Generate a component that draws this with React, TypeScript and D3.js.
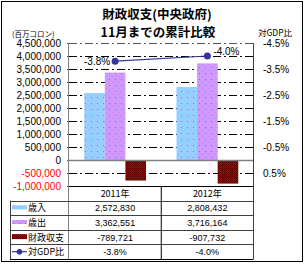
import React, { useRef, useEffect } from 'react';
import * as d3 from 'd3';

const years = ['2011年', '2012年'];
const seriesNames = ['歳入', '歳出', '財政収支'];
const revenue = [2572830, 2808432];
const expenditure = [3362551, 3716164];
const balance = [-789721, -907732];
const gdpRatio = [-3.8, -4.0];
const leftTicks = [4500000, 4000000, 3500000, 3000000, 2500000, 2000000, 1500000, 1000000, 500000, 0, -500000, -1000000];
const rightTicks = [-4.5, -3.5, -2.5, -1.5, -0.5, 0.5];

const FONT = '"Liberation Sans", Arial, "Noto Sans CJK JP", sans-serif';
const JP = '"Noto Sans CJK JP", "Liberation Sans", sans-serif';

const locale = d3.formatLocale({ decimal: '.', thousands: ',', grouping: [3], currency: ['', ''], minus: '-' });
const fmtNum = locale.format(',');
const fmtPct = locale.format('.1f');

const App = () => {
    const ref = useRef<SVGSVGElement>(null);

    useEffect(() => {
        if (!ref.current) return;
        const svg = d3.select(ref.current);
        svg.selectAll('*').remove();

        const plot = { left: 69, right: 253.5, top: 43, bottom: 186 };
        const rowH = 14.6;
        const tableBottom = plot.bottom + rowH * 5;

        const x0 = d3.scaleBand().domain(years).range([plot.left, plot.right]);
        const x1 = d3.scaleBand().domain(seriesNames).range([0, x0.bandwidth()]).paddingInner(0).paddingOuter(0.74);
        const y = d3.scaleLinear().domain([-1000000, 4500000]).range([plot.bottom, plot.top]);
        const y2 = d3.scaleLinear().domain([-4.5, 1.0]).range([plot.top, plot.bottom]);

        // patterns
        const defs = svg.append('defs');
        const pBlue = defs.append('pattern').attr('id', 'pBlue').attr('width', 6).attr('height', 6).attr('patternUnits', 'userSpaceOnUse');
        pBlue.append('rect').attr('width', 6).attr('height', 6).attr('fill', '#99ccff');
        pBlue.append('rect').attr('x', 1).attr('y', 1).attr('width', 1).attr('height', 1).attr('fill', '#6680ff');
        pBlue.append('rect').attr('x', 4).attr('y', 4).attr('width', 1).attr('height', 1).attr('fill', '#66e0ff');
        const pPurple = defs.append('pattern').attr('id', 'pPurple').attr('width', 6).attr('height', 6).attr('patternUnits', 'userSpaceOnUse');
        pPurple.append('rect').attr('width', 6).attr('height', 6).attr('fill', '#cc99ff');
        pPurple.append('rect').attr('x', 1).attr('y', 1).attr('width', 1).attr('height', 1).attr('fill', '#8866ff');
        pPurple.append('rect').attr('x', 4).attr('y', 4).attr('width', 1).attr('height', 1).attr('fill', '#ee77ee');
        const pRed = defs.append('pattern').attr('id', 'pRed').attr('width', 2).attr('height', 2).attr('patternUnits', 'userSpaceOnUse');
        pRed.append('rect').attr('width', 2).attr('height', 2).attr('fill', '#a00000');
        pRed.append('rect').attr('width', 1).attr('height', 1).attr('fill', '#600000');
        pRed.append('rect').attr('x', 1).attr('y', 1).attr('width', 1).attr('height', 1).attr('fill', '#600000');

        svg.append('rect').attr('width', 305).attr('height', 264).attr('fill', '#fff');
        svg.append('rect').attr('x', 1.5).attr('y', 1.5).attr('width', 301).attr('height', 260)
            .attr('fill', 'none').attr('stroke', '#000').attr('stroke-width', 1);

        // title
        svg.append('text').attr('x', 157).attr('y', 18.5).attr('text-anchor', 'middle').attr('font-family', JP)
            .attr('font-weight', 'bold').attr('font-size', 12.5).attr('fill', '#000').text('財政収支(中央政府)');
        svg.append('text').attr('x', 158).attr('y', 37).attr('text-anchor', 'middle').attr('font-family', JP)
            .attr('font-weight', 'bold').attr('font-size', 12.5).attr('fill', '#000').text('11月までの累計比較');

        svg.append('text').attr('x', 12).attr('y', 36.5).attr('font-family', JP).attr('font-size', 7.5).text('(百万コロン)');
        svg.append('text').attr('x', 258).attr('y', 36).attr('font-family', JP).attr('font-size', 8.5).text('対GDP比');

        // gridlines
        svg.append('g').selectAll('line').data(leftTicks.filter(d => d !== 0 && d !== -1000000))
            .join('line')
            .attr('x1', plot.left).attr('x2', plot.right)
            .attr('y1', d => Math.round(y(d)) + 0.5).attr('y2', d => Math.round(y(d)) + 0.5)
            .attr('stroke', d => d === 4500000 ? '#555' : '#000').attr('stroke-width', 1)
            .attr('stroke-dasharray', '8,3,2,3');

        // left axis labels
        svg.append('g').selectAll('text').data(leftTicks).join('text')
            .attr('x', 61).attr('y', d => y(d) + 3.6)
            .attr('text-anchor', 'end').attr('font-family', FONT).attr('font-size', 10)
            .attr('fill', d => d < 0 ? '#ff0000' : '#000')
            .text(d => fmtNum(d));
        svg.append('g').selectAll('line').data(leftTicks).join('line')
            .attr('x1', plot.left - 2).attr('x2', plot.left)
            .attr('y1', d => Math.round(y(d)) + 0.5).attr('y2', d => Math.round(y(d)) + 0.5)
            .attr('stroke', '#555');

        // right axis labels
        svg.append('g').selectAll('text').data(rightTicks).join('text')
            .attr('x', 263).attr('y', d => y2(d) + 3.6)
            .attr('font-family', FONT).attr('font-size', 10).attr('fill', '#000')
            .text(d => fmtPct(d) + '%');

        // bars
        const seriesValues = [revenue, expenditure, balance];
        const fills = ['url(#pBlue)', 'url(#pPurple)', 'url(#pRed)'];
        seriesNames.forEach((name, si) => {
            svg.append('g').selectAll('rect').data(seriesValues[si]).join('rect')
                .attr('x', (d, i) => (x0(years[i]) as number) + (x1(name) as number))
                .attr('width', x1.bandwidth())
                .attr('y', d => y(Math.max(0, d)))
                .attr('height', d => Math.abs(y(d) - y(0)))
                .attr('fill', fills[si]);
        });

        // zero line and borders
        svg.append('line').attr('x1', plot.left).attr('x2', plot.right)
            .attr('y1', Math.round(y(0)) + 0.5).attr('y2', Math.round(y(0)) + 0.5)
            .attr('stroke', '#808080').attr('stroke-width', 1.5);
        svg.append('line').attr('x1', plot.left - 0.5).attr('x2', plot.left - 0.5)
            .attr('y1', plot.top).attr('y2', tableBottom).attr('stroke', '#808080');
        svg.append('line').attr('x1', plot.right).attr('x2', plot.right)
            .attr('y1', plot.top).attr('y2', tableBottom).attr('stroke', '#404040');

        // GDP line
        const cx = (i: number) => (x0(years[i]) as number) + x0.bandwidth() / 2;
        const line = d3.line<number>().x((d, i) => cx(i)).y(d => y2(d));
        svg.append('path').datum(gdpRatio).attr('d', line)
            .attr('fill', 'none').attr('stroke', '#333399').attr('stroke-width', 1.2);
        svg.append('g').selectAll('circle').data(gdpRatio).join('circle')
            .attr('cx', (d, i) => cx(i)).attr('cy', d => y2(d)).attr('r', 3.5)
            .attr('fill', '#333399');
        svg.append('text').attr('x', cx(0) - 5).attr('y', y2(gdpRatio[0]) + 3.8)
            .attr('text-anchor', 'end').attr('font-family', FONT).attr('font-size', 10)
            .text(fmtPct(gdpRatio[0]) + '%');
        svg.append('text').attr('x', cx(1) + 6).attr('y', y2(gdpRatio[1]) - 1.5)
            .attr('font-family', FONT).attr('font-size', 10)
            .text(fmtPct(gdpRatio[1]) + '%');

        // data table
        const table = svg.append('g');
        const rowY = (r: number) => plot.bottom + rowH * r;
        table.append('line').attr('x1', plot.left).attr('x2', plot.right)
            .attr('y1', plot.bottom + 0.5).attr('y2', plot.bottom + 0.5).attr('stroke', '#000');
        [1, 2, 3, 4, 5].forEach(r => {
            table.append('line').attr('x1', 10).attr('x2', plot.right)
                .attr('y1', Math.round(rowY(r)) + 0.5).attr('y2', Math.round(rowY(r)) + 0.5)
                .attr('stroke', r === 5 ? '#000' : '#404040');
        });
        table.append('line').attr('x1', 10.5).attr('x2', 10.5).attr('y1', rowY(1)).attr('y2', tableBottom).attr('stroke', '#404040');
        table.append('line').attr('x1', cx(0) + x0.bandwidth() / 2).attr('x2', cx(0) + x0.bandwidth() / 2)
            .attr('y1', plot.bottom).attr('y2', tableBottom).attr('stroke', '#000');

        table.selectAll('text.year').data(years).join('text').attr('class', 'year')
            .attr('x', (d, i) => cx(i)).attr('y', rowY(0) + 11)
            .attr('text-anchor', 'middle').attr('font-family', JP).attr('font-size', 9).text(d => d);

        const rowsText = [
            revenue.map(d => fmtNum(d)),
            expenditure.map(d => fmtNum(d)),
            balance.map(d => fmtNum(d)),
            gdpRatio.map(d => fmtPct(d) + '%'),
        ];
        rowsText.forEach((vals, r) => {
            table.append('g').selectAll('text').data(vals).join('text')
                .attr('x', (d, i) => cx(i)).attr('y', rowY(r + 1) + 10.8)
                .attr('text-anchor', 'middle').attr('font-family', FONT).attr('font-size', 9).text(d => d);
        });

        const legendNames = [...seriesNames, '対GDP比'];
        legendNames.forEach((name, r) => {
            const yc = rowY(r + 1) + rowH / 2;
            if (r < 2) {
                table.append('rect').attr('x', 12).attr('y', yc - 2.5).attr('width', 15).attr('height', 4).attr('fill', fills[r]);
            } else if (r === 2) {
                table.append('rect').attr('x', 12).attr('y', yc - 3).attr('width', 15).attr('height', 5).attr('fill', fills[r]);
            } else {
                table.append('line').attr('x1', 12).attr('x2', 27).attr('y1', yc).attr('y2', yc).attr('stroke', '#333399').attr('stroke-width', 1.2);
                table.append('circle').attr('cx', 19.5).attr('cy', yc).attr('r', 2.8).attr('fill', '#333399');
            }
            table.append('text').attr('x', 28).attr('y', yc + 3.5)
                .attr('font-family', JP).attr('font-size', 9).text(name);
        });
    }, []);

    return (
        <svg ref={ref} width={305} height={264}
            style={{ position: 'absolute', left: 0, top: 0, display: 'block' }} />
    );
};

export default App;
